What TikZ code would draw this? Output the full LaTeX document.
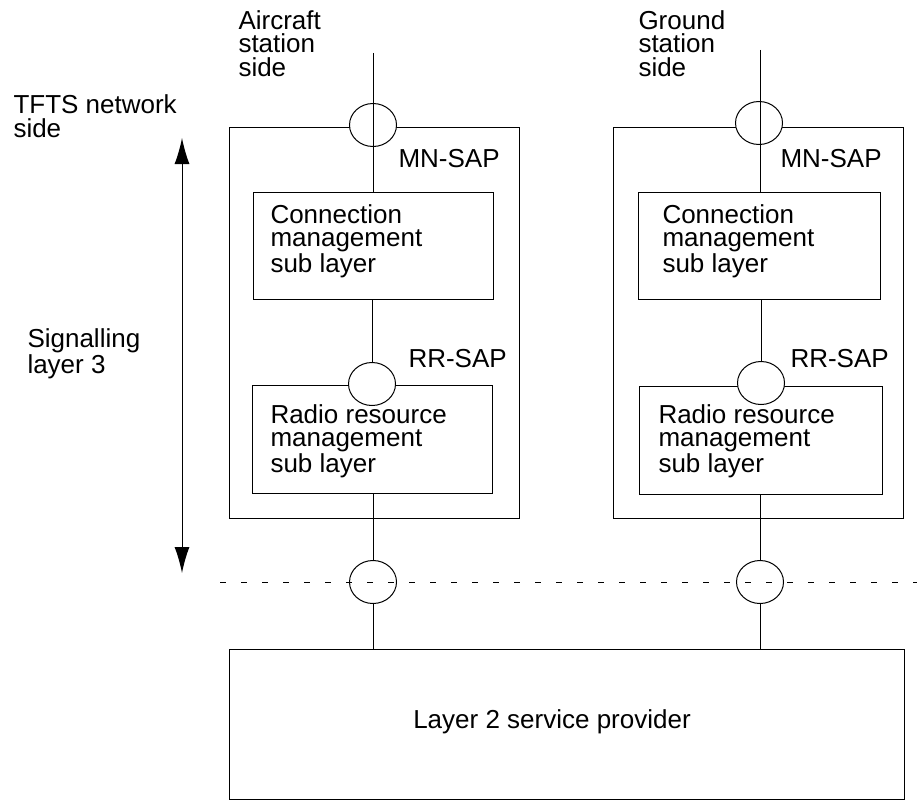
\documentclass[tikz,border=0pt]{standalone}
\usepackage{fontspec}
\setmainfont{Liberation Sans}
\usetikzlibrary{arrows.meta,shapes.geometric}
\begin{document}
\begin{tikzpicture}[x=1pt,y=-1pt,line width=1pt,
  boxnode/.style={draw,rectangle,inner sep=0pt,minimum width=#1},
  sap/.style={draw,ellipse,fill=white,inner sep=0pt,minimum width=47pt,minimum height=43pt},
  lbl/.style={inner sep=0pt,anchor=base west,align=left,font=\fontsize{26}{23.5}\selectfont},
  dashline/.style={dash pattern=on 6pt off 15pt}]
\useasboundingbox (0,0) rectangle (917,800);
% containers
\node[boxnode=290pt,minimum height=391pt] (outA) at (374,322.5) {};
\node[boxnode=290pt,minimum height=391pt] (outB) at (758,322.5) {};
\node[boxnode=240pt,minimum height=107pt] (cmA) at (373,245.5) {};
\node[boxnode=242pt,minimum height=107pt] (cmB) at (759,245.5) {};
\node[boxnode=240pt,minimum height=108pt] (rrA) at (372,439) {};
\node[boxnode=243pt,minimum height=108pt] (rrB) at (761,440) {};
\node[boxnode=675pt,minimum height=150pt] (l2) at (566.5,724) {};
% SAP circles
\node[sap] (mnA) at (373,125) {};
\node[sap] (mnB) at (759,123) {};
\node[sap] (rrsA) at (372,384) {};
\node[sap] (rrsB) at (761,383) {};
\node[sap] (loA) at (373,582) {};
\node[sap] (loB) at (760,582) {};
% connector ends
\coordinate (topA) at (373,53);
\coordinate (topB) at (760,50);
\coordinate (dashL) at (220,582);
\coordinate (dashR) at (917,582);
\coordinate (arrT) at (182,138);
\coordinate (arrB) at (182,573);
% connectors
\draw (topA) -- (topA |- cmA.north);
\draw (topB) -- (topB |- cmB.north);
\draw (cmA.south -| rrsA.north) -- (rrsA.north);
\draw (cmB.south -| rrsB.north) -- (rrsB.north);
\draw (rrA.south -| loA.north) -- (loA.north);
\draw (rrB.south -| loB.north) -- (loB.north);
\draw (loA.south) -- (loA.south |- l2.north);
\draw (loB.south) -- (loB.south |- l2.north);
\draw[dashline] (dashL) -- (dashR);
\draw[{Latex[length=26pt,width=15pt]}-{Latex[length=26pt,width=15pt]}] (arrT) -- (arrB);
% labels (anchored at the baseline of the last line)
\node[lbl] (tAir) at (238,76) {Aircraft\\station\\side};
\node[lbl] (tGnd) at (638,76) {Ground\\station\\side};
\node[lbl] (tTfts) at (13,137) {TFTS network\\side};
\node[lbl] (tSig) at (27,373) {Signalling\\layer 3};
\node[lbl] (tMnA) at (398,167) {MN-SAP};
\node[lbl] (tMnB) at (780,167) {MN-SAP};
\node[lbl] (tRrA) at (408,367) {RR-SAP};
\node[lbl] (tRrB) at (790,367) {RR-SAP};
\node[lbl] (tCmA) at (270,272) {Connection\\management\\sub layer};
\node[lbl] (tCmB) at (662,272) {Connection\\management\\sub layer};
\node[lbl] (tRrmA) at (270,472) {Radio resource\\management\\sub layer};
\node[lbl] (tRrmB) at (658,472) {Radio resource\\management\\sub layer};
\node[inner sep=0pt,anchor=base,font=\fontsize{26}{26}\selectfont] (tL2) at (552,728) {Layer 2 service provider};
\end{tikzpicture}
\end{document}
